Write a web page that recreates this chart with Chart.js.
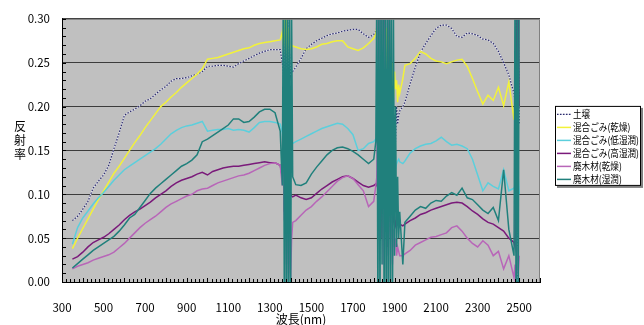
<!DOCTYPE html>
<html>
<head>
<meta charset="utf-8">
<script src="https://cdn.jsdelivr.net/npm/chart.js@4.4.0/dist/chart.umd.min.js"></script>
<style>
html, body { margin: 0; padding: 0; background: #fff; }
</style>
</head>
<body>
<canvas id="myChart" width="644" height="325"></canvas>
<script>
// wavelengths (nm) - denser steps inside the water absorption bands
const wavelengths = [
  350, 375, 400, 425, 450, 475, 500, 525, 550, 575, 600, 625, 650, 675, 700, 725, 750, 775, 800, 825,
  850, 875, 900, 925, 950, 975, 1000, 1025, 1050, 1075, 1100, 1125, 1150, 1175, 1200, 1225, 1250, 1275, 1300, 1325, 1350,
  1360, 1365, 1370, 1375, 1380, 1385, 1390, 1395, 1400, 1405, 1410,
  1425, 1450, 1475, 1500, 1525, 1550, 1575, 1600, 1625, 1650, 1675, 1700, 1725, 1750, 1775, 1800, 1810,
  1815, 1820, 1825, 1830, 1835, 1840, 1845, 1850, 1855, 1860, 1865, 1870, 1875, 1880, 1885, 1890, 1895, 1900, 1905, 1910, 1915, 1920, 1925,
  1940, 1950, 1975, 2000, 2025, 2050, 2075, 2100, 2125, 2150, 2175, 2200, 2225, 2250, 2275, 2300, 2325, 2350, 2375, 2400, 2425, 2450, 2475,
  2480, 2485, 2490, 2495, 2500
];

const seriesLabels = ['土壌', '混合ごみ(乾燥)', '混合ごみ(低湿潤)', '混合ごみ(高湿潤)', '廃木材(乾燥)', '廃木材(湿潤)'];

const soil = [
  0.070, 0.075, 0.083, 0.092, 0.107, 0.115, 0.122, 0.133, 0.152, 0.170, 0.190, 0.194, 0.197, 0.201, 0.206, 0.209, 0.214, 0.219, 0.223, 0.229,
  0.232, 0.232, 0.233, 0.235, 0.237, 0.240, 0.246, 0.246, 0.247, 0.247, 0.246, 0.245, 0.249, 0.252, 0.255, 0.258, 0.261, 0.263, 0.265, 0.265, 0.265,
  0.250, 0.240, 0.200, 0.310, 0.150, 0.320, 0.220, 0.260, 0.235, 0.242, 0.240,
  0.245, 0.255, 0.266, 0.271, 0.275, 0.278, 0.281, 0.283, 0.284, 0.286, 0.287, 0.288, 0.288, 0.283, 0.279, 0.282, 0.286,
  0.290, 0.310, 0.260, 0.300, 0.220, 0.270, 0.180, 0.250, 0.150, 0.220, 0.100, 0.200, 0.120, 0.190, 0.080, 0.170, 0.140, 0.190, 0.160, 0.200, 0.180, 0.190, 0.195,
  0.200, 0.205, 0.226, 0.245, 0.262, 0.272, 0.281, 0.289, 0.293, 0.293, 0.289, 0.280, 0.279, 0.284, 0.283, 0.281, 0.277, 0.276, 0.272, 0.263, 0.250, 0.236, 0.215,
  0.205, 0.320, -0.020, 0.310, 0.180
];

const mixedDry = [
  0.038, 0.050, 0.061, 0.072, 0.083, 0.094, 0.104, 0.114, 0.124, 0.132, 0.141, 0.150, 0.159, 0.167, 0.176, 0.184, 0.192, 0.200, 0.205, 0.211,
  0.216, 0.222, 0.227, 0.232, 0.237, 0.243, 0.254, 0.255, 0.256, 0.258, 0.260, 0.262, 0.264, 0.266, 0.267, 0.270, 0.272, 0.273, 0.274, 0.275, 0.276,
  0.285, 0.270, 0.300, 0.260, 0.310, 0.250, 0.290, 0.270, 0.268, 0.270, 0.269,
  0.268, 0.266, 0.265, 0.266, 0.268, 0.271, 0.272, 0.274, 0.275, 0.275, 0.268, 0.266, 0.264, 0.267, 0.272, 0.278, 0.283,
  0.290, 0.310, 0.280, 0.310, 0.270, 0.300, 0.260, 0.310, 0.240, 0.290, 0.220, 0.280, 0.200, 0.260, 0.180, 0.250, 0.210, 0.240, 0.220, 0.230, 0.205, 0.225, 0.215,
  0.232, 0.247, 0.249, 0.255, 0.263, 0.260, 0.255, 0.252, 0.251, 0.249, 0.251, 0.253, 0.254, 0.246, 0.232, 0.217, 0.203, 0.213, 0.207, 0.222, 0.201, 0.228, 0.185,
  0.212, 0.190, 0.230, 0.200, 0.210
];

const mixedLowWet = [
  0.043, 0.062, 0.073, 0.081, 0.089, 0.096, 0.102, 0.109, 0.116, 0.122, 0.128, 0.132, 0.136, 0.140, 0.144, 0.148, 0.152, 0.157, 0.163, 0.169,
  0.173, 0.176, 0.178, 0.179, 0.181, 0.183, 0.172, 0.173, 0.174, 0.174, 0.175, 0.173, 0.174, 0.173, 0.171, 0.176, 0.182, 0.183, 0.183, 0.182, 0.180,
  0.170, 0.150, 0.190, 0.130, 0.200, 0.120, 0.170, 0.150, 0.160, 0.158, 0.158,
  0.160, 0.163, 0.166, 0.169, 0.172, 0.175, 0.177, 0.179, 0.181, 0.180, 0.175, 0.168, 0.150, 0.152, 0.158, 0.160, 0.163,
  0.165, 0.180, 0.150, 0.190, 0.130, 0.170, 0.110, 0.160, 0.090, 0.150, 0.070, 0.140, 0.080, 0.130, 0.100, 0.145, 0.120, 0.140, 0.130, 0.135, 0.138, 0.140, 0.137,
  0.135, 0.138, 0.147, 0.152, 0.155, 0.157, 0.158, 0.161, 0.165, 0.160, 0.156, 0.157, 0.155, 0.152, 0.140, 0.122, 0.104, 0.113, 0.109, 0.106, 0.128, 0.104, 0.107,
  0.110, 0.140, 0.090, 0.120, 0.100
];

const mixedHighWet = [
  0.026, 0.029, 0.034, 0.040, 0.045, 0.048, 0.051, 0.055, 0.060, 0.065, 0.071, 0.076, 0.080, 0.083, 0.087, 0.091, 0.096, 0.100, 0.104, 0.109,
  0.113, 0.116, 0.118, 0.120, 0.123, 0.125, 0.122, 0.126, 0.128, 0.130, 0.131, 0.132, 0.132, 0.133, 0.134, 0.135, 0.136, 0.137, 0.136, 0.136, 0.133,
  0.120, 0.140, 0.080, 0.150, 0.050, 0.130, 0.070, 0.110, 0.100, 0.098, 0.097,
  0.099, 0.096, 0.094, 0.096, 0.101, 0.106, 0.110, 0.114, 0.117, 0.120, 0.121, 0.118, 0.114, 0.110, 0.108, 0.110, 0.112,
  0.110, 0.130, 0.300, 0.090, 0.310, 0.050, 0.200, 0.310, 0.070, 0.120, 0.040, 0.100, 0.310, 0.080, 0.060, 0.090, 0.070, 0.075, 0.065, 0.070, 0.066, 0.068, 0.066,
  0.064, 0.066, 0.070, 0.073, 0.077, 0.079, 0.082, 0.084, 0.086, 0.088, 0.090, 0.091, 0.090, 0.086, 0.081, 0.077, 0.072, 0.068, 0.066, 0.062, 0.058, 0.050, 0.045,
  0.040, 0.310, 0.100, 0.310, 0.200
];

const woodDry = [
  0.015, 0.018, 0.020, 0.022, 0.025, 0.027, 0.029, 0.031, 0.034, 0.039, 0.044, 0.050, 0.056, 0.062, 0.067, 0.071, 0.075, 0.080, 0.085, 0.089,
  0.092, 0.095, 0.098, 0.100, 0.104, 0.106, 0.107, 0.110, 0.113, 0.115, 0.117, 0.119, 0.121, 0.122, 0.124, 0.127, 0.130, 0.133, 0.135, 0.136, 0.133,
  0.110, 0.130, 0.070, 0.120, 0.020, 0.090, 0.010, 0.060, 0.005, 0.050, 0.068,
  0.070, 0.076, 0.082, 0.086, 0.092, 0.097, 0.103, 0.109, 0.115, 0.119, 0.121, 0.118, 0.111, 0.104, 0.086, 0.092, 0.110,
  0.120, 0.300, 0.050, 0.310, 0.100, 0.310, 0.020, 0.220, 0.300, 0.060, 0.150, 0.030, 0.120, 0.050, 0.080, 0.020, 0.060, 0.040, 0.050, 0.030, 0.040, 0.035, 0.030,
  0.030, 0.032, 0.036, 0.042, 0.045, 0.048, 0.051, 0.052, 0.054, 0.056, 0.062, 0.064, 0.058, 0.050, 0.044, 0.040, 0.047, 0.042, 0.030, 0.035, 0.015, 0.030, 0.005,
  0.020, 0.000, 0.040, 0.010, 0.030
];

const woodWet = [
  0.016, 0.021, 0.026, 0.031, 0.036, 0.040, 0.044, 0.048, 0.052, 0.058, 0.065, 0.073, 0.077, 0.085, 0.093, 0.101, 0.107, 0.112, 0.117, 0.122,
  0.127, 0.132, 0.135, 0.139, 0.145, 0.160, 0.163, 0.167, 0.171, 0.175, 0.179, 0.186, 0.186, 0.182, 0.183, 0.188, 0.194, 0.197, 0.197, 0.193, 0.172,
  0.110, 0.350, -0.050, 0.350, -0.050, 0.350, -0.050, 0.350, -0.050, 0.300, 0.120,
  0.111, 0.110, 0.113, 0.123, 0.131, 0.138, 0.145, 0.150, 0.153, 0.154, 0.152, 0.149, 0.145, 0.140, 0.135, 0.140, 0.160,
  0.350, -0.050, 0.350, -0.050, 0.350, 0.020, 0.350, -0.050, 0.350, -0.050, 0.350, -0.050, 0.350, 0.000, 0.350, -0.050, 0.300, 0.030, 0.200, 0.040, 0.120, 0.050, 0.080,
  0.020, 0.068, 0.075, 0.082, 0.086, 0.084, 0.090, 0.093, 0.092, 0.098, 0.102, 0.099, 0.107, 0.096, 0.094, 0.088, 0.082, 0.078, 0.085, 0.070, 0.128, 0.060, 0.030,
  0.350, -0.050, 0.350, -0.050, 0.350
];

const yTicks = [0, 0.05, 0.10, 0.15, 0.20, 0.25, 0.30];

const font = '"Noto Sans CJK JP", "Noto Sans", sans-serif';
const colors = ['#2c2c6c', '#f2f23a', '#5ccfdc', '#7a1a7a', '#b866b8', '#20807c'];
const allSeries = [soil, mixedDry, mixedLowWet, mixedHighWet, woodDry, woodWet];

const datasets = allSeries.map((values, i) => ({
  label: seriesLabels[i],
  data: wavelengths.map((w, j) => ({ x: w, y: values[j] })),
  borderColor: colors[i],
  borderWidth: i === 0 ? 1.2 : 1.5,
  borderDash: i === 0 ? [1.5, 1.5] : [],
  pointRadius: 0,
  tension: 0,
  order: allSeries.length - i  // last series on top, like the original
}));

// gray plot area, inside tick marks, stacked y title and boxed legend
const plotExtras = {
  id: 'plotExtras',
  beforeDraw(chart) {
    const { ctx, chartArea: a } = chart;
    ctx.save();
    ctx.fillStyle = '#c0c0c0';
    ctx.fillRect(a.left, a.top, a.right - a.left, a.bottom - a.top);
    ctx.restore();
  },
  beforeDatasetDraw(chart, args) {
    // soil line is navy dots on white: lay a pale line under the dashes
    if (args.index !== 0) return;
    const { ctx, chartArea: a } = chart;
    const pts = args.meta.data;
    ctx.save();
    ctx.beginPath();
    ctx.rect(a.left, a.top, a.right - a.left, a.bottom - a.top);
    ctx.clip();
    ctx.strokeStyle = '#e4e4f0';
    ctx.lineWidth = 1.2;
    ctx.beginPath();
    pts.forEach((p, i) => (i ? ctx.lineTo(p.x, p.y) : ctx.moveTo(p.x, p.y)));
    ctx.stroke();
    ctx.restore();
  },
  afterDraw(chart) {
    const { ctx, chartArea: a } = chart;
    const xs = chart.scales.x, ys = chart.scales.y;
    ctx.save();

    ctx.strokeStyle = '#808080';
    ctx.lineWidth = 1;
    ctx.beginPath();
    ctx.moveTo(a.left, a.top + 0.5);
    ctx.lineTo(a.right - 0.5, a.top + 0.5);
    ctx.lineTo(a.right - 0.5, a.bottom);
    ctx.stroke();

    ctx.strokeStyle = '#000';
    ctx.beginPath();
    for (let v = 300; v <= 2600; v += 20) {
      const px = Math.round(xs.getPixelForValue(v)) + 0.5;
      ctx.moveTo(px, a.bottom);
      ctx.lineTo(px, a.bottom - (v % 100 === 0 ? 4 : 3));
    }
    for (let i = 0; i <= 30; i++) {
      const py = Math.round(ys.getPixelForValue(i / 100)) + 0.5;
      ctx.moveTo(a.left, py);
      ctx.lineTo(a.left + 4, py);
    }
    ctx.stroke();

    // y title, characters stacked
    ctx.fillStyle = '#000';
    ctx.font = '12px ' + font;
    ctx.textAlign = 'center';
    ctx.textBaseline = 'middle';
    ['反', '射', '率'].forEach((c, i) => ctx.fillText(c, 20, 126 + i * 14));

    // legend
    const lx = a.right + 15, ly = a.top + 87, lw = 86, lh = 80;
    ctx.fillStyle = '#808080';
    ctx.fillRect(lx + 2, ly + 2, lw, lh);
    ctx.fillStyle = '#fff';
    ctx.fillRect(lx, ly, lw, lh);
    ctx.strokeStyle = '#000';
    ctx.strokeRect(lx + 0.5, ly + 0.5, lw - 1, lh - 1);
    ctx.font = '10px ' + font;
    ctx.textAlign = 'left';
    const widest = Math.max(...datasets.map(ds => ctx.measureText(ds.label).width));
    const squeeze = Math.min(1, 66 / widest);
    datasets.forEach((ds, i) => {
      const y = ly + 8 + i * 13;
      if (i === 0) {
        ctx.strokeStyle = '#e4e4f0';
        ctx.lineWidth = 1.2;
        ctx.beginPath();
        ctx.moveTo(lx + 2, y + 0.5);
        ctx.lineTo(lx + 16, y + 0.5);
        ctx.stroke();
      }
      ctx.strokeStyle = ds.borderColor;
      ctx.lineWidth = ds.borderWidth;
      ctx.setLineDash(ds.borderDash);
      ctx.beginPath();
      ctx.moveTo(lx + 2, y + 0.5);
      ctx.lineTo(lx + 16, y + 0.5);
      ctx.stroke();
      ctx.setLineDash([]);
      ctx.fillStyle = '#000';
      ctx.save();
      ctx.translate(lx + 18, y);
      ctx.scale(squeeze, 1);
      ctx.fillText(ds.label, 0, 0);
      ctx.restore();
    });
    ctx.restore();
  }
};

const ctx = document.getElementById('myChart').getContext('2d');
const myChart = new Chart(ctx, {
  type: 'line',
  data: { datasets: datasets },
  options: {
    responsive: false,
    animation: false,
    layout: { padding: { top: 18, right: 104, bottom: 0, left: 0 } },
    plugins: { legend: { display: false }, tooltip: { enabled: false } },
    scales: {
      x: {
        type: 'linear',
        min: 300,
        max: 2600,
        afterFit: s => { s.height = 43; },
        grid: { display: false },
        border: { color: '#000', width: 1 },
        ticks: {
          stepSize: 100,
          autoSkip: false,
          maxRotation: 0,
          padding: 11,
          color: '#000',
          font: { family: font, size: 11.5 },
          callback: v => ((v - 300) % 200 === 0 ? v : '')
        },
        title: {
          display: true,
          text: '波長(nm)',
          color: '#000',
          font: { family: font, size: 12, lineHeight: 1 },
          padding: { top: 0, bottom: 0 }
        }
      },
      y: {
        min: 0,
        max: 0.3,
        afterFit: s => { s.width = 62; },
        afterBuildTicks: s => { s.ticks = yTicks.map(v => ({ value: v })); },
        grid: { color: '#3c3c3c', lineWidth: 1, drawTicks: false },
        border: { color: '#000', width: 1 },
        ticks: {
          padding: 12,
          color: '#000',
          font: { family: font, size: 11.5 },
          callback: v => v.toFixed(2)
        }
      }
    }
  },
  plugins: [plotExtras]
});
</script>
</body>
</html>
